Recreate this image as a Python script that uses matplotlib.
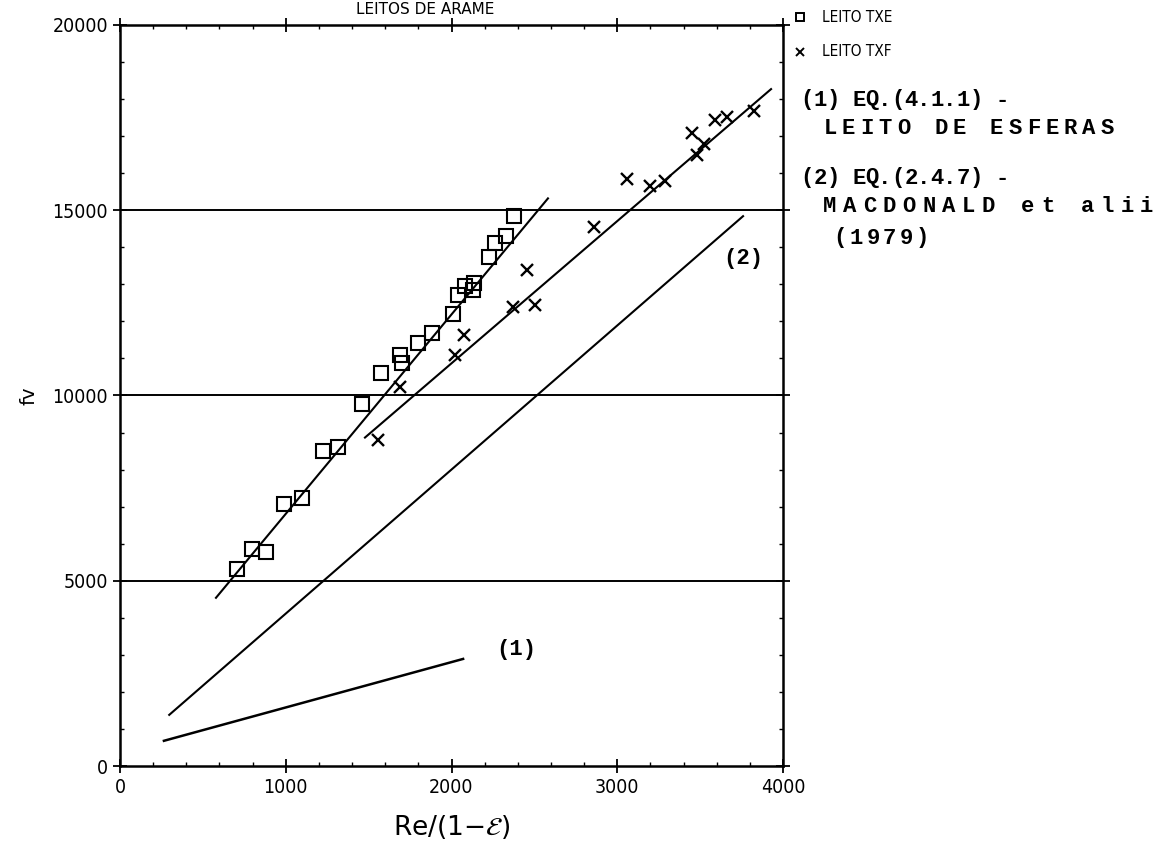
import numpy as np
import matplotlib
matplotlib.use('Agg')
import matplotlib.pyplot as plt
from matplotlib.ticker import MultipleLocator

W, H = 1170, 863

# experimental points, bed TXE
txe_x = [706, 796, 881, 990, 1098, 1225, 1315, 1460, 1575, 1690, 1700, 1798, 1882,
         2009, 2039, 2081, 2136, 2130, 2226, 2262, 2330, 2380]
txe_y = [5320, 5870, 5780, 7080, 7240, 8510, 8600, 9780, 10600, 11080, 10890, 11430, 11680,
         12190, 12700, 12950, 13030, 12840, 13730, 14110, 14300, 14850]

# experimental points, bed TXF
txf_x = [1556, 1690, 2021, 2075, 2371, 2455, 2504, 2860, 3059, 3198, 3288,
         3451, 3481, 3523, 3590, 3662, 3825]
txf_y = [8810, 10220, 11080, 11620, 12380, 13380, 12430, 14540, 15840, 15650, 15780,
         17080, 16490, 16780, 17430, 17510, 17680]

# straight lines (end points): fits and correlations
fit_txe_x = [579, 2582]
fit_txe_y = [4540, 15320]
fit_txf_x = [1478, 3928]
fit_txf_y = [8865, 18270]
eq1_x = [265, 2070]
eq1_y = [680, 2890]
eq2_x = [297, 3759]
eq2_y = [1380, 14840]

xticks = [0, 1000, 2000, 3000, 4000]
yticks = [0, 5000, 10000, 15000, 20000]

narrow = ['Liberation Sans Narrow', 'DejaVu Sans']
mono = ['Liberation Mono', 'DejaVu Sans Mono']


def fx(px):
    return px / W


def fy(py):
    return 1 - py / H


def spaced(fig, text, px, py, pitch, size=16):
    # typewriter-like text with a fixed character pitch (in pixels)
    for i, ch in enumerate(text):
        if ch == ' ':
            continue
        fig.text(fx(px + i * pitch), fy(py), ch, family=mono, weight='bold',
                 fontsize=size, ha='center', va='center')


fig = plt.figure(figsize=(W / 100, H / 100), dpi=100)
ax = fig.add_axes([fx(120), fy(766), fx(783) - fx(120), fy(25) - fy(766)])

for yv in [5000, 10000, 15000]:
    ax.axhline(yv, color='black', lw=1.4, zorder=1)

ax.plot(fit_txe_x, fit_txe_y, color='black', lw=1.5)
ax.plot(fit_txf_x, fit_txf_y, color='black', lw=1.5)
ax.plot(eq1_x, eq1_y, color='black', lw=1.8)
ax.plot(eq2_x, eq2_y, color='black', lw=1.5)

ax.plot(txe_x, txe_y, ls='none', marker='s', ms=9.5, mfc='none', mec='black', mew=1.5)
ax.plot(txf_x, txf_y, ls='none', marker='x', ms=9, mec='black', mew=1.7)

ax.text(2270, 3150, '(1)', family=mono, weight='bold', fontsize=16, va='center', ha='left')
ax.text(3640, 13700, '(2)', family=mono, weight='bold', fontsize=16, va='center', ha='left')

ax.set_xlim(0, 4000)
ax.set_ylim(0, 20000)
ax.set_xticks(xticks)
ax.set_yticks(yticks)
ax.xaxis.set_minor_locator(MultipleLocator(200))
ax.yaxis.set_minor_locator(MultipleLocator(1000))
ax.tick_params(which='major', direction='inout', length=10, width=1.3, top=True, right=True,
               labelsize=14)
ax.tick_params(which='minor', direction='in', length=3, width=1, top=True, right=True)
for lab in ax.get_xticklabels() + ax.get_yticklabels():
    lab.set_family(narrow)
    lab.set_fontstretch('condensed')
for sp in ax.spines.values():
    sp.set_linewidth(1.8)

ax.set_xlabel('Re/(1$-\\mathcal{E}$)', fontsize=19, labelpad=12)
ax.set_ylabel('fv', fontsize=14, labelpad=10)

# title at the very top of the sheet
fig.text(fx(425), fy(9), 'LEITOS DE ARAME', fontsize=11, ha='center', va='center',
         family=narrow)

# key to the symbols and curves
ax.plot([fx(800)], [fy(17)], transform=fig.transFigure, clip_on=False, ls='none',
        marker='s', ms=6, mfc='none', mec='black', mew=1.4)
ax.plot([fx(800)], [fy(52)], transform=fig.transFigure, clip_on=False, ls='none',
        marker='x', ms=6, mec='black', mew=1.4)
fig.text(fx(822), fy(17), 'LEITO TXE', family=narrow, fontsize=11, va='center',
         fontstretch='condensed')
fig.text(fx(822), fy(52), 'LEITO TXF', family=narrow, fontsize=11, va='center',
         fontstretch='condensed')

spaced(fig, '(1) EQ.(4.1.1) -', 807, 100, 13)
spaced(fig, 'LEITO DE ESFERAS', 830, 128, 18.5)
spaced(fig, '(2) EQ.(2.4.7) -', 807, 178, 13)
spaced(fig, 'MACDONALD et alii', 830, 207, 19.8)
spaced(fig, '(1979)', 840, 238, 16.5)

fig.savefig('out.png', dpi=100)
